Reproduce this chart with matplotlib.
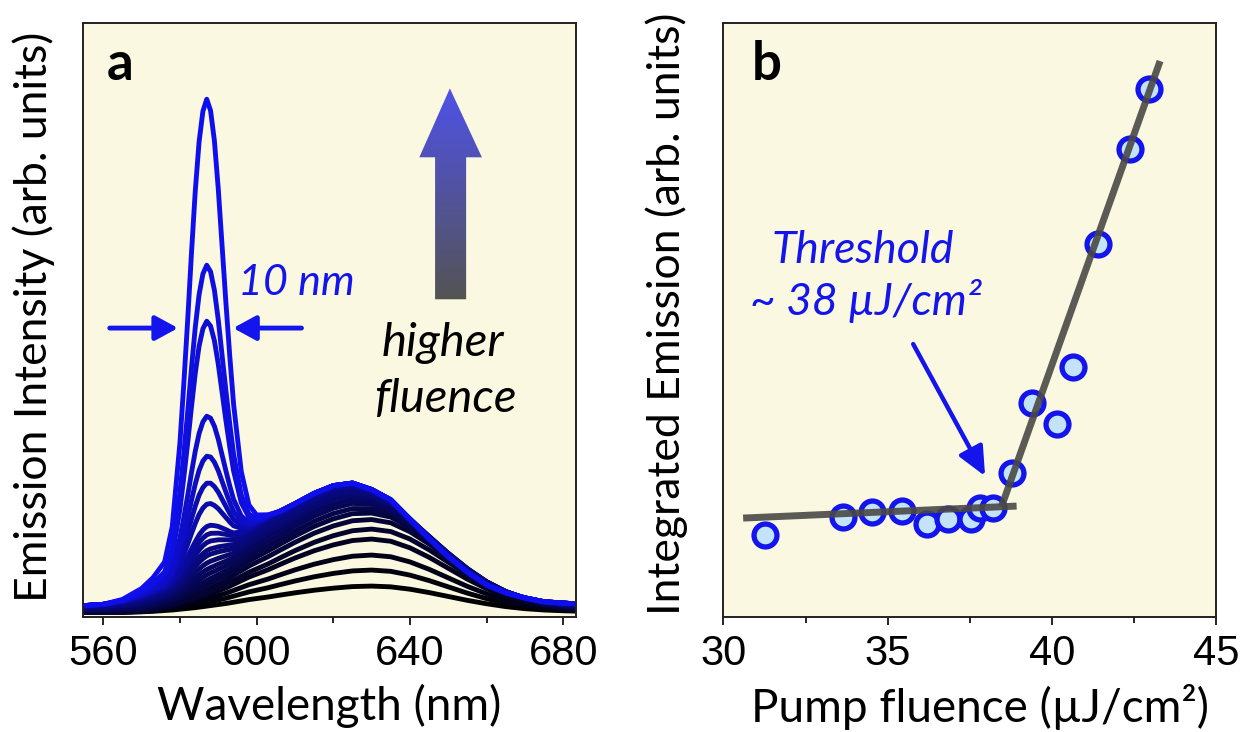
import matplotlib
matplotlib.use("Agg")
import matplotlib.pyplot as plt
import numpy as np
from matplotlib.patches import Polygon
from matplotlib.ticker import MultipleLocator

# ---------- panel a: emission spectra ----------
wavelength = [555, 560, 565, 570, 573, 576, 578, 580, 581, 582, 583, 584, 585, 586,
              587, 588, 589, 590, 591, 592, 593, 594, 596, 598, 600, 603, 606, 610,
              615, 620, 625, 630, 635, 640, 645, 650, 655, 660, 665, 670, 675, 680, 685]
# broad PL band at low fluence (normalised)
band_low = [0.0, 0.0, 0.0, 0.01, 0.03, 0.06, 0.08, 0.11, 0.125, 0.14, 0.155, 0.17, 0.19, 0.21,
            0.23, 0.25, 0.27, 0.29, 0.31, 0.33, 0.355, 0.38, 0.43, 0.48, 0.52, 0.58, 0.65, 0.74,
            0.84, 0.92, 0.98, 1.0, 0.97, 0.88, 0.75, 0.60, 0.45, 0.32, 0.21, 0.13, 0.08, 0.05, 0.03]
# broad PL band at high fluence (normalised, blue shifted)
band_high = [0.05, 0.06, 0.08, 0.11, 0.14, 0.17, 0.19, 0.22, 0.235, 0.25, 0.265, 0.28, 0.30, 0.32,
             0.34, 0.36, 0.38, 0.41, 0.44, 0.47, 0.495, 0.52, 0.58, 0.63, 0.68, 0.74, 0.78, 0.84,
             0.92, 0.98, 1.0, 0.95, 0.87, 0.72, 0.57, 0.43, 0.31, 0.21, 0.15, 0.11, 0.08, 0.07, 0.06]
# narrow ASE peak (normalised)
ase_peak = [0.0, 0.0, 0.005, 0.02, 0.035, 0.06, 0.13, 0.30, 0.42, 0.55, 0.69, 0.82, 0.92, 0.98,
            1.0, 0.97, 0.90, 0.79, 0.66, 0.53, 0.41, 0.30, 0.14, 0.055, 0.02, 0.004, 0.0, 0.0,
            0.0, 0.0, 0.0, 0.0, 0.0, 0.0, 0.0, 0.0, 0.0, 0.0, 0.0, 0.0, 0.0, 0.0, 0.0]

# one entry per spectrum, low -> high pump fluence
band_amp = [0.26, 0.42, 0.57, 0.73, 0.83, 0.93, 1.00, 1.05, 1.10, 1.14, 1.18, 1.21,
            1.24, 1.26, 1.27, 1.28, 1.29, 1.29, 1.29, 1.29, 1.29, 1.29, 1.29]
band_shift = [0, 0, 0, 0, 0, 0.1, 0.2, 0.3, 0.4, 0.5, 0.6, 0.7,
              0.8, 0.9, 1, 1, 1, 1, 1, 1, 1, 1, 1]
ase_amp = [0, 0, 0, 0, 0, 0, 0.02, 0.04, 0.07, 0.1, 0.14, 0.19,
           0.22, 0.28, 0.34, 0.42, 0.64, 0.85, 1.12, 1.52, 2.47, 3.03, 4.69]

# ---------- panel b: threshold ----------
fluence = [31.28, 33.64, 34.54, 35.43, 36.19, 36.85, 37.53, 37.81, 38.22,
           38.80, 39.39, 40.15, 40.66, 41.40, 42.37, 42.95]
integrated = [0.82, 1.00, 1.05, 1.06, 0.93, 0.98, 0.98, 1.09, 1.09,
              1.44, 2.14, 1.93, 2.50, 3.73, 4.68, 5.28]
fit_below_x = [30.6, 38.93]
fit_below_y = [0.99, 1.11]
fit_above_x = [38.47, 43.30]
fit_above_y = [1.105, 5.56]

BG = '#FAF8E1'
BLUE = '#1414EC'
TEXT_FONT = ['Lato', 'DejaVu Sans']
TICK_FONT = 'Liberation Sans'

plt.rcParams['font.family'] = TEXT_FONT

fig = plt.figure(figsize=(12.43, 7.32), dpi=100)
ax1 = fig.add_axes([0.067, 0.157, 0.3964, 0.8115])
ax2 = fig.add_axes([0.582, 0.157, 0.3962, 0.8115])

for ax in (ax1, ax2):
    ax.set_facecolor(BG)
    for sp in ax.spines.values():
        sp.set_linewidth(1.4)
        sp.set_color('#222222')
    ax.tick_params(axis='y', left=False, labelleft=False)
    ax.tick_params(axis='x', which='major', direction='out', length=6, width=1.2,
                   labelsize=30, pad=6, colors='black', labelfontfamily=TICK_FONT)
    ax.tick_params(axis='x', which='minor', direction='out', length=4, width=1.2)

# --- panel a ---
wl = np.array(wavelength)
low = np.array(band_low)
high = np.array(band_high)
ase = np.array(ase_peak)
n = len(band_amp)
for i in range(n):
    spec = band_amp[i] * ((1 - band_shift[i]) * low + band_shift[i] * high) + ase_amp[i] * ase
    t = i / (n - 1)
    ax1.plot(wl, spec, color=(0.06 * t, 0.06 * t, 0.93 * t), lw=3.5, solid_joinstyle='round')

# gradient arrow "higher fluence"
arrow_pts = [(0.744, 0.890), (0.809, 0.774), (0.777, 0.774), (0.777, 0.535),
             (0.714, 0.535), (0.714, 0.774), (0.682, 0.774)]
poly = Polygon(arrow_pts, closed=True, transform=ax1.transAxes, facecolor='none',
               edgecolor='none')
ax1.add_patch(poly)
top_c = np.array([0.31, 0.32, 0.91])
bot_c = np.array([0.33, 0.33, 0.32])
grad = np.linspace(0, 1, 200)[:, None, None]
img = top_c * (1 - grad) + bot_c * grad
im = ax1.imshow(img, extent=[0.68, 0.81, 0.53, 0.89], transform=ax1.transAxes,
                aspect='auto', zorder=3, interpolation='bilinear')
im.set_clip_path(poly)

ax1.text(648.6, 2.565, 'higher', fontsize=34, style='italic', ha='center', va='baseline')
ax1.text(649.1, 2.0, 'fluence', fontsize=34, style='italic', ha='center', va='baseline')
ax1.text(610.4, 3.17, '10 nm', fontsize=31, style='italic', color=BLUE,
         ha='center', va='baseline')
arrow_kw = dict(arrowstyle='-|>,head_length=0.55,head_width=0.3', lw=3.5, color=BLUE,
                mutation_scale=25, shrinkA=0, shrinkB=0)
ax1.annotate('', xy=(579.5, 2.84), xytext=(561.7, 2.84), arrowprops=arrow_kw)
ax1.annotate('', xy=(593.9, 2.84), xytext=(611.7, 2.84), arrowprops=arrow_kw)
ax1.text(0.048, 0.93, 'a', transform=ax1.transAxes, fontsize=38, fontweight='bold',
         ha='left', va='center')

ax1.set_xlim(554.8, 683.3)
ax1.set_ylim(-0.05, 5.89)
ax1.xaxis.set_major_locator(MultipleLocator(40))
ax1.xaxis.set_minor_locator(MultipleLocator(20))
ax1.set_xlabel('Wavelength (nm)', fontsize=33)
ax1.set_ylabel('Emission Intensity (arb. units)', fontsize=32)
ax1.yaxis.set_label_coords(-0.057, 0.505)
ax1.xaxis.set_label_coords(0.5, -0.112)

# --- panel b ---
ax2.plot(fluence, integrated, 'o', ms=16.5, mew=3.8, mec=BLUE, mfc='#C3E4F8', zorder=3)
ax2.plot(fit_below_x, fit_below_y, color='#4A4945', lw=5, alpha=0.9, zorder=4,
         solid_capstyle='butt')
ax2.plot(fit_above_x, fit_above_y, color='#4A4945', lw=5, alpha=0.9, zorder=4,
         solid_capstyle='butt')
ax2.annotate('', xy=(37.97, 1.41), xytext=(35.78, 2.73),
             arrowprops=dict(arrowstyle='-|>,head_length=0.7,head_width=0.32', lw=3.2,
                             color=BLUE, mutation_scale=25, shrinkA=0, shrinkB=0))
ax2.text(34.23, 3.54, 'Threshold', fontsize=32, style='italic', color=BLUE,
         ha='center', va='baseline')
ax2.text(34.33, 3.02, '~ 38 µJ/cm²', fontsize=32, style='italic', color=BLUE,
         ha='center', va='baseline')
ax2.text(0.058, 0.93, 'b', transform=ax2.transAxes, fontsize=38, fontweight='bold',
         ha='left', va='center')

ax2.set_xlim(30, 45)
ax2.set_ylim(0, 5.94)
ax2.xaxis.set_major_locator(MultipleLocator(5))
ax2.xaxis.set_minor_locator(MultipleLocator(2.5))
ax2.set_xlabel('Pump fluence (µJ/cm²)', fontsize=33)
ax2.set_ylabel('Integrated Emission (arb. units)', fontsize=32)
ax2.yaxis.set_label_coords(-0.072, 0.51)
ax2.xaxis.set_label_coords(0.52, -0.112)

fig.savefig('out.png', dpi=100, facecolor='white')
